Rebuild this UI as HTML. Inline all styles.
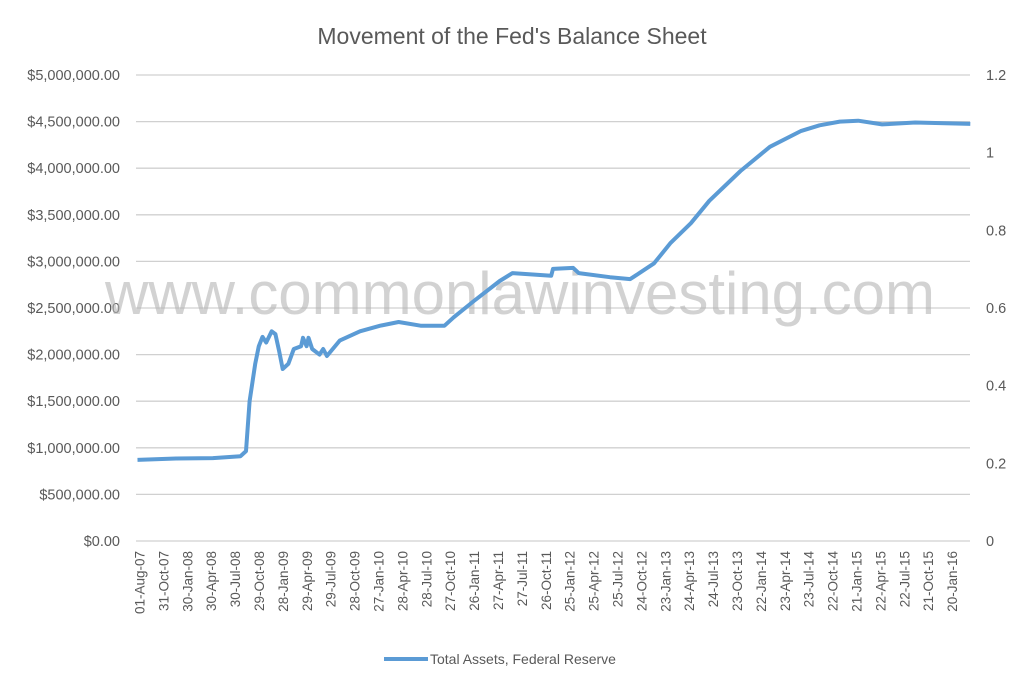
<!DOCTYPE html>
<html><head><meta charset="utf-8"><style>
body{margin:0;background:#fff;}
svg text{font-family:"Liberation Sans",sans-serif;}
</style></head><body>
<svg id="chart" width="1024" height="689" xmlns="http://www.w3.org/2000/svg">
<rect width="1024" height="689" fill="#fff"/>
<text x="512" y="44" text-anchor="middle" font-size="23" fill="#595959">Movement of the Fed's Balance Sheet</text>
<g id="grid"></g>
<g id="ylab"></g>
<g id="y2lab"></g>
<g id="xlab"></g>
<text x="520" y="314" text-anchor="middle" font-size="60" fill="#b4b4b4" fill-opacity="0.6" textLength="830">www.commonlawinvesting.com</text>
<path id="line" fill="none" stroke="#5b9bd5" stroke-width="4" stroke-linejoin="round"/>
<g>
<line x1="384" y1="659" x2="428" y2="659" stroke="#5b9bd5" stroke-width="4"/>
<text x="430" y="664" font-size="14" fill="#595959">Total Assets, Federal Reserve</text>
</g>
</svg>
<script>
const xLabels=["01-Aug-07","31-Oct-07","30-Jan-08","30-Apr-08","30-Jul-08","29-Oct-08","28-Jan-09","29-Apr-09","29-Jul-09","28-Oct-09","27-Jan-10","28-Apr-10","28-Jul-10","27-Oct-10","26-Jan-11","27-Apr-11","27-Jul-11","26-Oct-11","25-Jan-12","25-Apr-12","25-Jul-12","24-Oct-12","23-Jan-13","24-Apr-13","24-Jul-13","23-Oct-13","22-Jan-14","23-Apr-14","23-Jul-14","22-Oct-14","21-Jan-15","22-Apr-15","22-Jul-15","21-Oct-15","20-Jan-16"];
const yTicks=[0,500000,1000000,1500000,2000000,2500000,3000000,3500000,4000000,4500000,5000000];
const y2Ticks=["0","0.2","0.4","0.6","0.8","1","1.2"];
const weeks=[0,21,41,56,59,61,64,66,68,70,73,75,77,79,82,85,89,90,92,93,95,99,101,103,110,121,132,142,154,167,172,183,197,204,225,226,237,240,257,268,273,281,290,301,311,328,344,361,371,382,392,405,423,453];
const values=[870,885,890,910,965,1500,1900,2090,2190,2130,2250,2220,2040,1845,1900,2060,2090,2180,2090,2180,2060,2000,2060,1985,2150,2250,2310,2350,2310,2310,2400,2575,2790,2875,2845,2920,2930,2875,2830,2810,2875,2980,3200,3410,3650,3970,4230,4400,4460,4500,4510,4470,4490,4475];
const X0=137.5,WK=23.9/13,Y0=541,YT=75;
const xs=w=>X0+w*WK;
const ys=v=>Y0-(v/5000000)*(Y0-YT);
const ns="http://www.w3.org/2000/svg";
function mk(t,a,p){const e=document.createElementNS(ns,t);for(const k in a)e.setAttribute(k,a[k]);p.appendChild(e);return e;}
const grid=document.getElementById('grid'),yl=document.getElementById('ylab'),y2=document.getElementById('y2lab'),xl=document.getElementById('xlab');
yTicks.forEach(v=>{const y=ys(v);
const g=mk('line',{x1:136,x2:970,y1:y,y2:y,stroke:'#d0d0d0','stroke-width':1.3},grid);


const t=mk('text',{x:120,y:y+5,'text-anchor':'end','font-size':14.5,fill:'#595959'},yl);
t.textContent='$'+v.toLocaleString('en-US')+'.00';

});
y2Ticks.forEach((s,i)=>{const y=Y0-i*(Y0-YT)/6;
const t=mk('text',{x:986,y:y+5,'font-size':14.5,fill:'#595959'},y2);t.textContent=s;

});
xLabels.forEach((s,i)=>{const x=xs(i*13)+2;
const t=mk('text',{x:0,y:0,transform:`translate(${x+5},551) rotate(-90)`,'text-anchor':'end','font-size':13.5,fill:'#595959'},xl);t.textContent=s;

});
document.getElementById('line').setAttribute('d',weeks.map((w,i)=>(i?'L':'M')+xs(w).toFixed(1)+','+ys(values[i]*1000).toFixed(1)).join(''));
</script>
</body></html>
